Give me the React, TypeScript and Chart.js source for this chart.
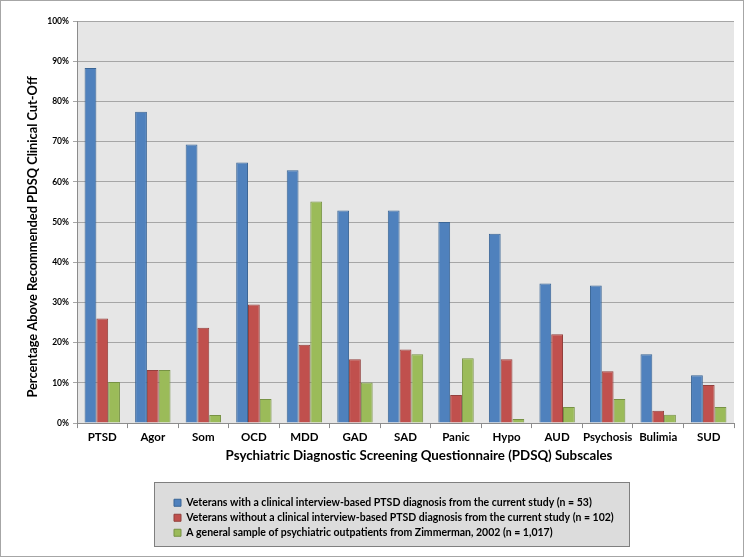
import { useEffect, useRef } from 'react';
import { Chart, registerables } from 'chart.js';

Chart.register(...registerables);

const categories = ['PTSD', 'Agor', 'Som', 'OCD', 'MDD', 'GAD', 'SAD', 'Panic', 'Hypo', 'AUD', 'Psychosis', 'Bulimia', 'SUD'];
const withPtsd = [88.3, 77.4, 69.3, 64.8, 62.9, 52.9, 52.9, 50.0, 47.1, 34.7, 34.2, 17.1, 11.9];
const withoutPtsd = [26.0, 13.2, 23.7, 29.5, 19.5, 15.9, 18.3, 7.0, 15.9, 22.1, 12.9, 3.1, 9.5];
const zimmerman = [10.2, 13.2, 2.0, 6.0, 55.1, 10.1, 17.1, 16.1, 1.0, 4.0, 6.0, 2.1, 4.0];

const seriesLabels = [
  'Veterans with a clinical interview-based PTSD diagnosis from the current study (n = 53)',
  'Veterans without a clinical interview-based PTSD diagnosis from the current study (n = 102)',
  'A general sample of psychiatric outpatients from Zimmerman, 2002 (n = 1,017)',
];
const xTitle = 'Psychiatric Diagnostic Screening Questionnaire (PDSQ) Subscales';
const yTitle = 'Percentage Above Recommended PDSQ Clinical Cut-Off';

const FONT = 'Lato, "Open Sans", sans-serif';

const framePlugin = {
  id: 'frame',
  beforeDraw(chart: any) {
    const { ctx, chartArea: a, width, height } = chart;
    ctx.save();
    ctx.fillStyle = '#ffffff';
    ctx.fillRect(0, 0, width, height);
    ctx.strokeStyle = '#a6a6a6';
    ctx.lineWidth = 1;
    ctx.strokeRect(0.5, 0.5, width - 1, height - 1);
    ctx.fillStyle = '#e6e6e6';
    ctx.fillRect(a.left, a.top, a.right - a.left, a.bottom - a.top);
    const lg = chart.legend;
    if (lg) {
      lg.left = 169.5;
      lg.right = 660;
      lg.top = 493;
      ctx.fillStyle = '#dcdcdc';
      ctx.fillRect(154.5, 482.5, 475, 64);
      ctx.strokeStyle = '#7f7f7f';
      ctx.strokeRect(154.5, 482.5, 475, 64);
    }
    ctx.restore();
  },
  afterDraw(chart: any) {
    const { ctx } = chart;
    ctx.save();
    ctx.fillStyle = '#000';
    ctx.textAlign = 'center';
    ctx.textBaseline = 'middle';
    ctx.font = `bold 13.3px ${FONT}`;
    ctx.fillText(xTitle, 419, 456);
    ctx.translate(33, 237);
    ctx.rotate(-Math.PI / 2);
    ctx.font = `bold 12.8px ${FONT}`;
    ctx.fillText(yTitle, 0, 0);
    ctx.restore();
  },
};

export default function App() {
  const ref = useRef<HTMLCanvasElement>(null);
  useEffect(() => {
    document.body.style.margin = '0';
    const chart = new Chart(ref.current!, {
      type: 'bar',
      data: {
        labels: categories,
        datasets: [
          { label: seriesLabels[0], data: withPtsd, backgroundColor: '#4f81bd', borderColor: '#3a6595', borderWidth: 1 },
          { label: seriesLabels[1], data: withoutPtsd, backgroundColor: '#c0504d', borderColor: '#93403d', borderWidth: 1 },
          { label: seriesLabels[2], data: zimmerman, backgroundColor: '#9bbb59', borderColor: '#779244', borderWidth: 1 },
        ],
      },
      options: {
        animation: false,
        responsive: true,
        maintainAspectRatio: false,
        datasets: { bar: { categoryPercentage: 0.7, barPercentage: 1.0 } },
        layout: { padding: { top: 21, left: 1, right: 10, bottom: 12.9 } },
        plugins: {
          tooltip: { enabled: false },
          legend: {
            position: 'bottom',
            align: 'start',
            fullSize: false,
            labels: {
              font: { family: FONT, size: 10.5, weight: 'bold' },
              color: '#000',
              boxWidth: 7,
              boxHeight: 7,
              padding: 4.5,
            },
          },
        },
        scales: {
          x: {
            grid: { offset: true, drawOnChartArea: false, tickLength: 5, color: '#8c8c8c' },
            border: { color: '#8c8c8c' },
            ticks: { font: { family: FONT, size: 11.5, weight: 'bold' }, color: '#000', padding: 2, maxRotation: 0, autoSkip: false },
            afterFit(s: any) { s.height = 66; },
          },
          y: {
            min: 0,
            max: 100,
            ticks: {
              stepSize: 10,
              callback: (v: any) => v + '%',
              font: { family: FONT, size: 8.5, weight: 'bold' },
              color: '#000',
              padding: 4,
            },
            grid: { color: '#a6a6a6', tickLength: 4 },
            border: { color: '#8c8c8c' },
            afterFit(s: any) { s.width = 76; },
          },
        },
      } as any,
      plugins: [framePlugin],
    });
    return () => chart.destroy();
  }, []);
  return (
    <div style={{ width: 744, height: 557, position: 'relative' }}>
      <canvas ref={ref} />
    </div>
  );
}
